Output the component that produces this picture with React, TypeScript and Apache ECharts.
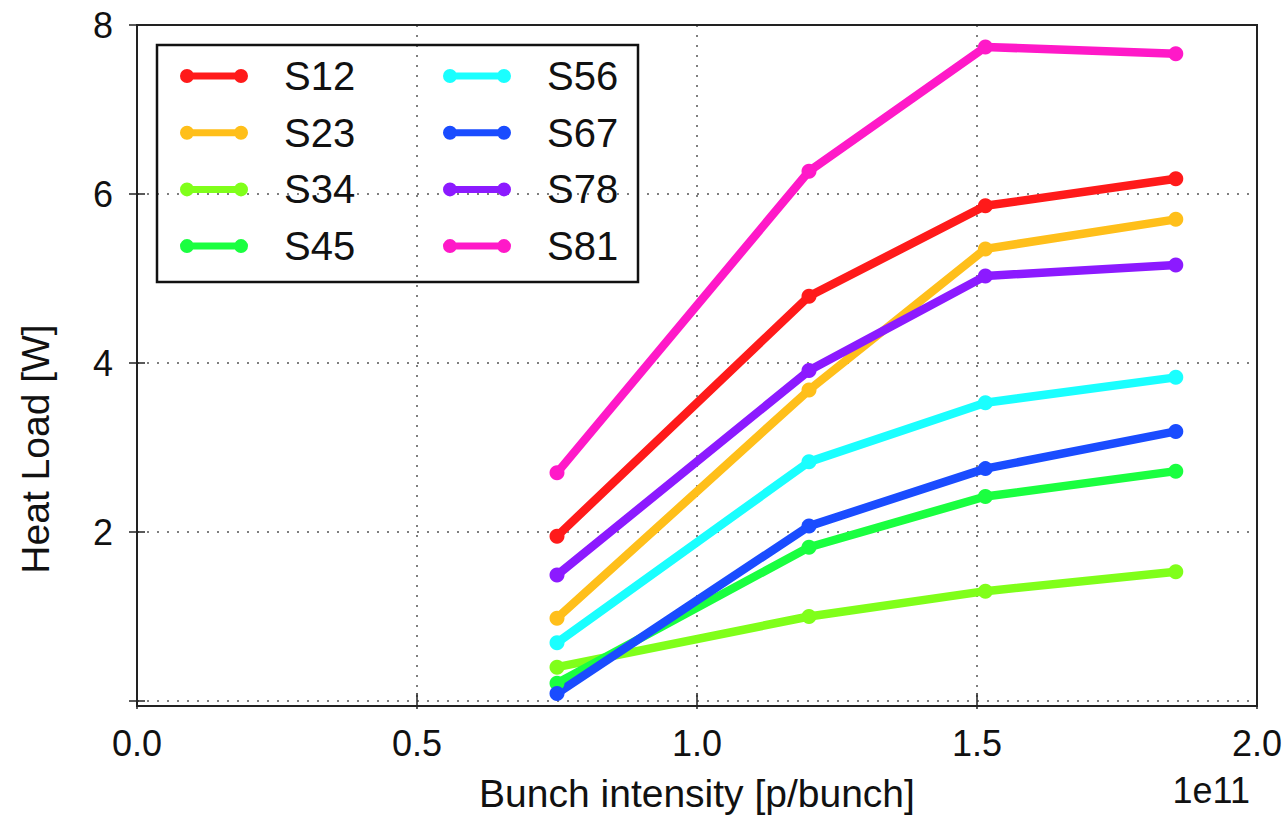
import React, { useEffect, useRef } from "react";
import * as echarts from "echarts";

const xValues = [0.75, 1.2, 1.515, 1.855];
const seriesNames = ["S12", "S23", "S34", "S45", "S56", "S67", "S78", "S81"];
const s12 = [1.95, 4.79, 5.86, 6.18];
const s23 = [0.98, 3.68, 5.35, 5.70];
const s34 = [0.40, 1.00, 1.30, 1.53];
const s45 = [0.21, 1.82, 2.42, 2.72];
const s56 = [0.69, 2.83, 3.53, 3.83];
const s67 = [0.09, 2.07, 2.75, 3.19];
const s78 = [1.49, 3.91, 5.03, 5.16];
const s81 = [2.70, 6.27, 7.74, 7.66];
const seriesValues = [s12, s23, s34, s45, s56, s67, s78, s81];
const colors = ["#ff1a1a", "#ffbf1a", "#80ff1a", "#1aff40", "#1affff", "#1a4cff", "#8c1aff", "#ff19c8"];
const xTicks = [0, 0.5, 1.0, 1.5, 2.0];
const yTicks = [0, 2, 4, 6, 8];

const FONT = "'Liberation Sans', Arial, sans-serif";
const legendIcon =
  "path://M7,3.5 L61,3.5 L61,10.5 L7,10.5 Z M0,7 a7,7 0 1,1 14,0 a7,7 0 1,1 -14,0 Z M54,7 a7,7 0 1,1 14,0 a7,7 0 1,1 -14,0 Z";

export default function App() {
  const ref = useRef<HTMLDivElement>(null);
  useEffect(() => {
    if (!ref.current) return;
    const chart = echarts.init(ref.current, null, { renderer: "svg" });
    const gridLeft = 137, gridTop = 25, gridRight = 1257, gridBottom = 701;
    const axisCommonX = {
      type: "value" as const,
      min: xTicks[0],
      max: xTicks[xTicks.length - 1],
      interval: 0.5,
    };
    const axisCommonY = {
      type: "value" as const,
      min: yTicks[0],
      max: yTicks[yTicks.length - 1],
      interval: 2,
    };
    const legendText = {
      fontFamily: FONT,
      fontSize: 40,
      color: "#111",
      lineHeight: 40,
      padding: [0, 0, 0, 31],
    };
    const tickStyle = { show: true, inside: true, length: 8, lineStyle: { color: "#222", width: 1.5 } };
    chart.setOption({
      animation: false,
      backgroundColor: "#fff",
      grid: {
        left: gridLeft,
        top: gridTop,
        right: 1287 - gridRight,
        bottom: 815 - gridBottom,
        containLabel: false,
        outerBoundsMode: "none",
      },
      xAxis: [
        {
          ...axisCommonX,
          position: "bottom",
          offset: 5,
          axisLine: { show: false },
          axisTick: tickStyle,
          axisLabel: {
            fontFamily: FONT,
            fontSize: 36,
            color: "#111",
            margin: 19,
            formatter: (v: number) => v.toFixed(1),
          },
          splitLine: {
            show: true,
            lineStyle: { color: "#555", width: 1.5, type: [2, 8] },
          },
          name: "Bunch intensity [p/bunch]",
          nameLocation: "middle",
          nameGap: 67,
          nameTextStyle: { fontFamily: FONT, fontSize: 39, color: "#111", lineHeight: 40 },
        },
        {
          ...axisCommonX,
          position: "top",
          axisLine: { show: false },
          axisTick: tickStyle,
          axisLabel: { show: false },
          splitLine: { show: false },
        },
      ],
      yAxis: [
        {
          ...axisCommonY,
          position: "left",
          axisLine: { show: false },
          axisTick: tickStyle,
          axisLabel: {
            fontFamily: FONT,
            fontSize: 36,
            color: "#111",
            margin: 24,
            formatter: (v: number) => (v === 0 ? "" : String(v)),
          },
          splitLine: {
            show: true,
            lineStyle: { color: "#555", width: 1.5, type: [2, 8] },
          },
        },
        {
          ...axisCommonY,
          position: "right",
          axisLine: { show: false },
          axisTick: tickStyle,
          axisLabel: { show: false },
          splitLine: { show: false },
        },
      ],
      legend: [
        {
          left: 180,
          top: 56,
          padding: 0,
          orient: "vertical",
          data: seriesNames.slice(0, 4).map((n) => ({ name: n, icon: legendIcon })),
          itemWidth: 68,
          itemHeight: 14,
          itemGap: 16.7,
          textStyle: legendText,
          selectedMode: false,
        },
        {
          left: 443,
          top: 56,
          padding: 0,
          orient: "vertical",
          data: seriesNames.slice(4).map((n) => ({ name: n, icon: legendIcon })),
          itemWidth: 68,
          itemHeight: 14,
          itemGap: 16.7,
          textStyle: legendText,
          selectedMode: false,
        },
      ],
      graphic: [
        {
          type: "rect",
          shape: { x: gridLeft, y: gridTop, width: gridRight - gridLeft, height: 706 - gridTop },
          style: { fill: "none", stroke: "#222", lineWidth: 2 },
          z: 10,
          silent: true,
        },
        {
          type: "rect",
          shape: { x: 157, y: 45, width: 481, height: 237 },
          style: { fill: "none", stroke: "#111", lineWidth: 2.5 },
          z: 10,
          silent: true,
        },
        {
          type: "text",
          x: 35,
          y: 449,
          rotation: Math.PI / 2,
          style: {
            text: "Heat Load [W]",
            fontFamily: FONT,
            fontSize: 39,
            fill: "#111",
            align: "center",
            verticalAlign: "middle",
          },
        },
        {
          type: "text",
          x: 1250,
          y: 790,
          style: {
            text: "1e11",
            fontFamily: FONT,
            fontSize: 36,
            fill: "#111",
            align: "right",
            verticalAlign: "middle",
          },
        },
      ],
      series: seriesNames.map((name, i) => ({
        name,
        type: "line",
        xAxisIndex: 0,
        yAxisIndex: 0,
        data: xValues.map((x, j) => [x, seriesValues[i][j]]),
        symbol: "circle",
        symbolSize: 15,
        showSymbol: true,
        color: colors[i],
        lineStyle: { width: 8.5, color: colors[i] },
        itemStyle: { color: colors[i] },
      })),
    });
    return () => chart.dispose();
  }, []);
  return <div ref={ref} style={{ width: 1287, height: 815, position: "absolute", left: 0, top: 0 }} />;
}
